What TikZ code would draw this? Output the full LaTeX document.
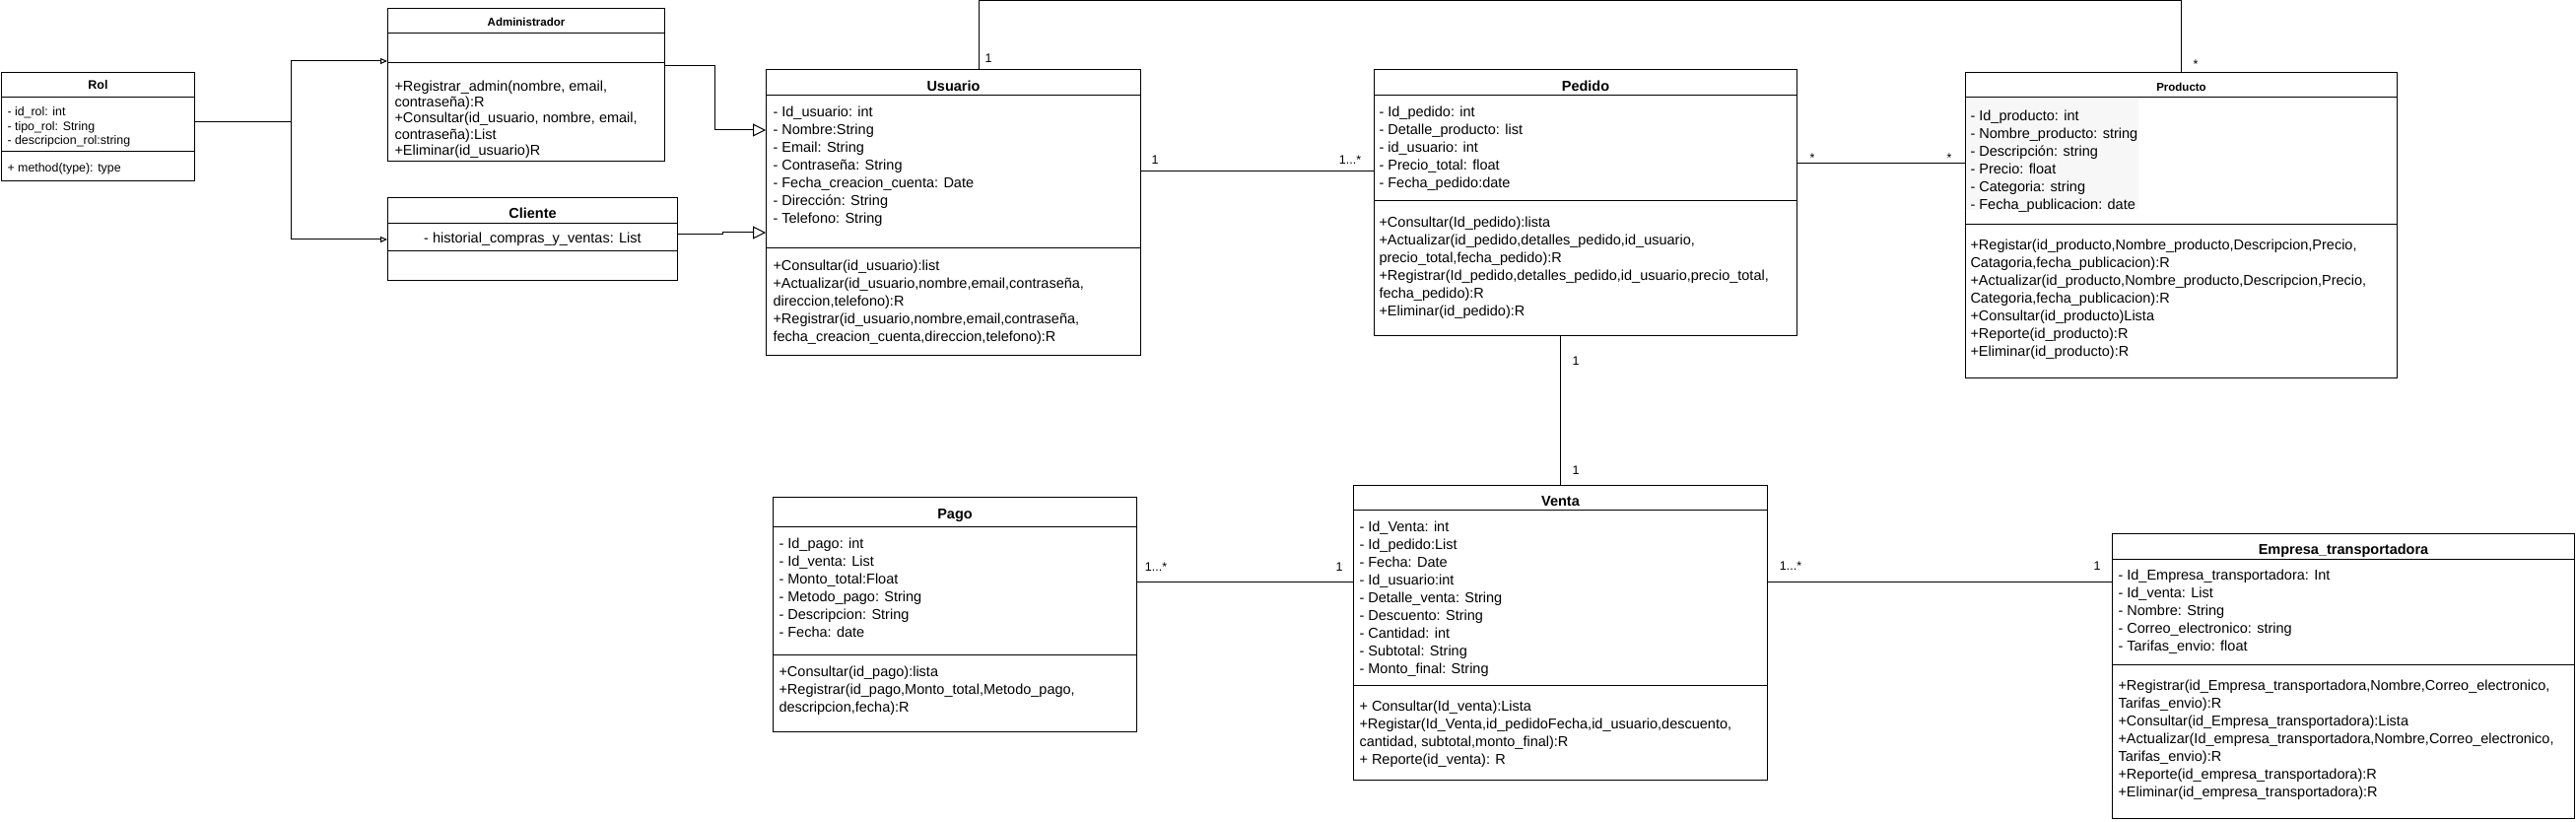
\documentclass[tikz,border=0pt]{standalone}
\usepackage{fontspec}
\setmainfont{Liberation Sans}
\usetikzlibrary{arrows.meta}

\tikzset{
	classbox/.style={draw, anchor=north west, inner sep=0pt},
	classname/.style={font=\bfseries\fontsize{14.5}{17}\selectfont, text height=10.4pt, text depth=0pt, inner sep=0pt},
	smallname/.style={classname, font=\bfseries\fontsize{11.5}{14}\selectfont, text height=8.3pt},
	members/.style={anchor=north west, align=left, inner sep=0pt, font=\fontsize{14.5}{18}\selectfont},
	mult/.style={font=\fontsize{12.5}{15}\selectfont, inner sep=0pt},
	inherit/.style={-{Triangle[open, length=13pt, width=13pt]}},
	subinherit/.style={-{Triangle[open, length=7pt, width=6pt]}},
}

\begin{document}
\begin{tikzpicture}[x=1pt, y=-1pt, line width=1pt]
	\useasboundingbox (0,0) rectangle (2614,834);
	% Rol
	\node[classbox, minimum width=196pt, minimum height=110pt] (rol) at (1,73) {};
	\draw (rol.west |- 0,99) -- (rol.east |- 0,99);
	\draw (rol.west |- 0,154) -- (rol.east |- 0,154);
	\node[smallname, font=\bfseries\fontsize{12.5}{15}\selectfont, text height=9pt] (rol-title) at (rol.north |- 0,86) {Rol};
	\node[members, font=\fontsize{12.4}{14.7}\selectfont] (rol-attr) at (7,106.7) {\strut- id\_rol: int\\- tipo\_rol: String\\- descripcion\_rol:string};
	\node[members, font=\fontsize{12.4}{14.7}\selectfont] (rol-ops) at (7,163.7) {\strut+ method(type): type};
	% Administrador
	\node[classbox, minimum width=281pt, minimum height=155pt] (admin) at (393,8) {};
	\draw (admin.west |- 0,34) -- (admin.east |- 0,34);
	\draw (admin.west |- 0,64) -- (admin.east |- 0,64);
	\node[smallname] (admin-title) at (admin.north |- 0,22.5) {Administrador};
	\node[members, font=\fontsize{14.5}{16.25}\selectfont] (admin-ops) at (400,80.6) {\strut+Registrar\_admin(nombre, email,\\contraseña):R\\+Consultar(id\_usuario, nombre, email,\\contraseña):List\\+Eliminar(id\_usuario)R};
	% Cliente
	\node[classbox, minimum width=294pt, minimum height=84pt] (cliente) at (393,200) {};
	\draw (cliente.west |- 0,227) -- (cliente.east |- 0,227);
	\draw (cliente.west |- 0,255) -- (cliente.east |- 0,255);
	\node[classname] (cliente-title) at (cliente.north |- 0,216) {Cliente};
	\node[font=\fontsize{14.5}{18}\selectfont, inner sep=0pt] (cliente-attr) at (cliente.north |- 0,243) {- historial\_compras\_y\_ventas: List};
	% Usuario
	\node[classbox, minimum width=380pt, minimum height=290pt] (usuario) at (777,70) {};
	\draw (usuario.west |- 0,97) -- (usuario.east |- 0,97);
	\draw (usuario.west |- 0,252) -- (usuario.east |- 0,252);
	\node[classname] (usuario-title) at (usuario.north |- 0,87) {Usuario};
	\node[members] (usuario-attr) at (784,105.4) {\strut- Id\_usuario: int\\- Nombre:String\\- Email: String\\- Contraseña: String\\- Fecha\_creacion\_cuenta: Date\\- Dirección: String\\- Telefono: String};
	\node[members] (usuario-ops) at (784,261.4) {\strut+Consultar(id\_usuario):list\\+Actualizar(id\_usuario,nombre,email,contraseña,\\direccion,telefono):R\\+Registrar(id\_usuario,nombre,email,contraseña,\\fecha\_creacion\_cuenta,direccion,telefono):R};
	% Pedido
	\node[classbox, minimum width=429pt, minimum height=270pt] (pedido) at (1394,70) {};
	\draw (pedido.west |- 0,97) -- (pedido.east |- 0,97);
	\draw (pedido.west |- 0,204) -- (pedido.east |- 0,204);
	\node[classname] (pedido-title) at (pedido.north |- 0,87) {Pedido};
	\node[members] (pedido-attr) at (1399,105.4) {\strut- Id\_pedido: int\\- Detalle\_producto: list\\- id\_usuario: int\\- Precio\_total: float\\- Fecha\_pedido:date};
	\node[members] (pedido-ops) at (1399,217.4) {\strut+Consultar(Id\_pedido):lista\\+Actualizar(id\_pedido,detalles\_pedido,id\_usuario,\\precio\_total,fecha\_pedido):R\\+Registrar(Id\_pedido,detalles\_pedido,id\_usuario,precio\_total,\\fecha\_pedido):R\\+Eliminar(id\_pedido):R};
	% Producto
	\node[classbox, minimum width=438pt, minimum height=310pt] (producto) at (1994,73) {};
	\draw (producto.west |- 0,99) -- (producto.east |- 0,99);
	\draw (producto.west |- 0,228) -- (producto.east |- 0,228);
	\fill[black!3] (1995,100) rectangle (2170,213);
	\node[smallname] (producto-title) at (producto.north |- 0,88) {Producto};
	\node[members] (producto-attr) at (1999,109.4) {\strut- Id\_producto: int\\- Nombre\_producto: string\\- Descripción: string\\- Precio: float\\- Categoria: string\\- Fecha\_publicacion: date};
	\node[members] (producto-ops) at (1999,240.4) {\strut+Registar(id\_producto,Nombre\_producto,Descripcion,Precio,\\Catagoria,fecha\_publicacion):R\\+Actualizar(id\_producto,Nombre\_producto,Descripcion,Precio,\\Categoria,fecha\_publicacion):R\\+Consultar(id\_producto)Lista\\+Reporte(id\_producto):R\\+Eliminar(id\_producto):R};
	% Pago
	\node[classbox, minimum width=369pt, minimum height=238pt] (pago) at (784,504) {};
	\draw (pago.west |- 0,534) -- (pago.east |- 0,534);
	\draw (pago.west |- 0,664) -- (pago.east |- 0,664);
	\node[classname] (pago-title) at (pago.north |- 0,521.5) {Pago};
	\node[members] (pago-attr) at (790,543.4) {\strut- Id\_pago: int\\- Id\_venta: List\\- Monto\_total:Float\\- Metodo\_pago: String\\- Descripcion: String\\- Fecha: date};
	\node[members] (pago-ops) at (790,673.4) {\strut+Consultar(id\_pago):lista\\+Registrar(id\_pago,Monto\_total,Metodo\_pago,\\descripcion,fecha):R};
	% Venta
	\node[classbox, minimum width=420pt, minimum height=299pt] (venta) at (1373,492) {};
	\draw (venta.west |- 0,517) -- (venta.east |- 0,517);
	\draw (venta.west |- 0,695) -- (venta.east |- 0,695);
	\node[classname] (venta-title) at (venta.north |- 0,508) {Venta};
	\node[members] (venta-attr) at (1379,526.4) {\strut- Id\_Venta: int\\- Id\_pedido:List\\- Fecha: Date\\- Id\_usuario:int\\- Detalle\_venta: String\\- Descuento: String\\- Cantidad: int\\- Subtotal: String\\- Monto\_final: String};
	\node[members] (venta-ops) at (1379,708.4) {\strut+ Consultar(Id\_venta):Lista\\+Registar(Id\_Venta,id\_pedidoFecha,id\_usuario,descuento,\\cantidad, subtotal,monto\_final):R\\+ Reporte(id\_venta): R};
	% Empresa_transportadora
	\node[classbox, minimum width=469pt, minimum height=289pt] (empresa) at (2143,541) {};
	\draw (empresa.west |- 0,567) -- (empresa.east |- 0,567);
	\draw (empresa.west |- 0,674) -- (empresa.east |- 0,674);
	\node[classname] (empresa-title) at (empresa.north |- 0,557) {Empresa\_transportadora};
	\node[members] (empresa-attr) at (2149,575.4) {\strut- Id\_Empresa\_transportadora: Int\\- Id\_venta: List\\- Nombre: String\\- Correo\_electronico: string\\- Tarifas\_envio: float};
	\node[members] (empresa-ops) at (2149,687.4) {\strut+Registrar(id\_Empresa\_transportadora,Nombre,Correo\_electronico,\\Tarifas\_envio):R\\+Consultar(id\_Empresa\_transportadora):Lista\\+Actualizar(Id\_empresa\_transportadora,Nombre,Correo\_electronico,\\Tarifas\_envio):R\\+Reporte(id\_empresa\_transportadora):R\\+Eliminar(id\_empresa\_transportadora):R};
	% generalizations
	\coordinate (rolfork) at (295,124);
	\draw (rol.east |- rolfork) -- (rolfork);
	\draw[subinherit] (rolfork) |- (admin.west |- 0,62);
	\draw[subinherit] (rolfork) |- (cliente.west |- 0,243);
	\draw[inherit] (admin.east |- 0,67) -- (725,67) |- (usuario.west |- 0,132);
	\draw[inherit] (cliente.east |- 0,238) -- (733,238) |- (usuario.west |- 0,236);
	% associations
	\draw (usuario.north -| 993,0) |- (2213,1) -- (producto.north -| 2213,0);
	\draw (usuario.east |- 0,174) -- (pedido.west |- 0,174);
	\draw (pedido.east |- 0,166) -- (producto.west |- 0,166);
	\draw (pedido.south -| 1583,0) -- (venta.north -| 1583,0);
	\draw (pago.east |- 0,590) -- (venta.west |- 0,590);
	\draw (venta.east |- 0,590) -- (empresa.west |- 0,590);
	% multiplicities
	\node[mult] (m-usu-top) at (1003,59) {1};
	\node[mult] (m-prod-top) at (2228,65) {*};
	\node[mult] (m-usu-ped) at (1172,162) {1};
	\node[mult] (m-ped-usu) at (1370,162) {1...*};
	\node[mult] (m-ped-prod) at (1839,160) {*};
	\node[mult] (m-prod-ped) at (1978,160) {*};
	\node[mult] (m-ped-ven) at (1599,366) {1};
	\node[mult] (m-ven-ped) at (1599,477) {1};
	\node[mult] (m-pago-ven) at (1173,575) {1...*};
	\node[mult] (m-ven-pago) at (1359,575) {1};
	\node[mult] (m-ven-emp) at (1817,574) {1...*};
	\node[mult] (m-emp-ven) at (2128,574) {1};
\end{tikzpicture}
\end{document}
